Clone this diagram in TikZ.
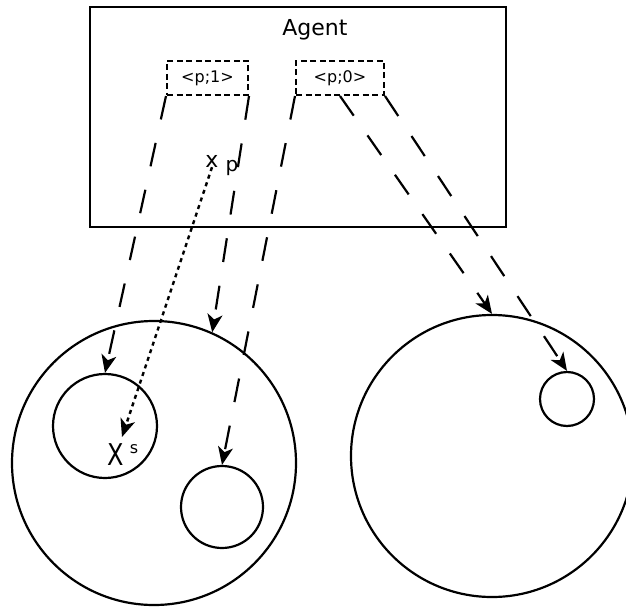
\documentclass[tikz,border=0pt]{standalone}
\usepackage{fontspec}
\setmainfont{DejaVu Sans}
\usetikzlibrary{arrows.meta}
\begin{document}
\begin{tikzpicture}[x=1pt,y=-1pt,
  ring/.style={draw,line width=2.2pt,circle,inner sep=0pt},
  tagbox/.style={draw,line width=2pt,dash pattern=on 6pt off 3.5pt,minimum height=34pt,inner sep=0pt,font=\fontsize{16}{19}\selectfont},
  tip/.style={-{Stealth[length=18pt,width=15pt,inset=5pt]}},
  longdash/.style={tip,line width=2.2pt,dash pattern=on 24pt off 24pt},
  dotline/.style={tip,line width=2.4pt,dash pattern=on 4pt off 4pt}]
\useasboundingbox (0,0) rectangle (626,607);
\begin{scope}
\clip (0,0) rectangle (626,607);
\node[draw,line width=2.2pt,minimum width=416pt,minimum height=220pt,inner sep=0pt] (agent) at (298,117) {};
\node[font=\fontsize{22}{26}\selectfont] (agentlabel) at (315,30) {Agent};
\node[tagbox,minimum width=81pt] (p1) at (207.5,78) {<p;1>};
\node[tagbox,minimum width=88pt] (p0) at (340,78) {<p;0>};
\node[font=\fontsize{22}{26}\selectfont,inner sep=0pt] (xp) at (212,161) {x};
\node[font=\fontsize{20}{24}\selectfont,inner sep=0pt] (plabel) at (232,168) {p};
\node[ring,minimum size=284pt] (bigL) at (154,463) {};
\node[ring,minimum size=104pt] (s1) at (105,426) {};
\node[ring,minimum size=82pt] (s2) at (222,507) {};
\node[ring,minimum size=282pt] (bigR) at (492,456) {};
\node[ring,minimum size=54pt] (s3) at (567,399) {};
\node[font=\fontsize{24}{28}\selectfont,inner sep=0pt] (xs) at (116,455) {\scalebox{1}[1.25]{X}};
\node[font=\fontsize{16}{18}\selectfont,inner sep=0pt] (slabel) at (134,449) {s};
\coordinate (dotend) at (122,437);
\draw[longdash] (p1.south west) -- (s1.north);
\draw[longdash] (p1.south east) -- (bigL.66);
\draw[longdash] (p0.south west) -- (s2.north);
\draw[longdash] (p0.south) -- (bigR.north);
\draw[longdash] (p0.south east) -- (s3.north);
\draw[dotline] (xp.south) -- (dotend);
\end{scope}
\end{tikzpicture}
\end{document}
